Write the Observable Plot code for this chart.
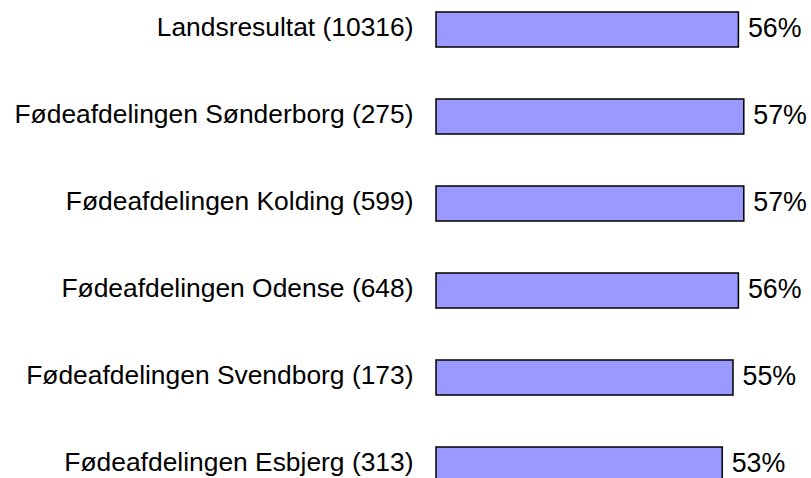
<!DOCTYPE html>
<html>
<head>
<meta charset="utf-8">
<script src="https://cdn.jsdelivr.net/npm/d3@7"></script>
<script src="https://cdn.jsdelivr.net/npm/@observablehq/plot@0.6"></script>
<style>
  html, body { margin: 0; padding: 0; background: #ffffff; }
  #chart svg { display: block; }
</style>
</head>
<body>
<div id="chart"></div>
<script>
const categories = [
  "Landsresultat",
  "Fødeafdelingen Sønderborg",
  "Fødeafdelingen Kolding",
  "Fødeafdelingen Odense",
  "Fødeafdelingen Svendborg",
  "Fødeafdelingen Esbjerg"
];
const counts = [10316, 275, 599, 648, 173, 313];
const values = [56, 57, 57, 56, 55, 53];

const data = categories.map((c, i) => ({
  label: `${c} (${counts[i]})`,
  value: values[i]
}));

const font = "'Liberation Sans', Arial, sans-serif";

const chart = Plot.plot({
  width: 811,
  height: 478,
  margin: 0,
  style: { fontFamily: font, background: "#ffffff", color: "#000000" },
  x: { domain: [0, 100], range: [436, 976], axis: null },
  y: {
    type: "band",
    domain: data.map(d => d.label),
    range: [10, 483],
    paddingInner: 0.6,
    paddingOuter: 0,
    axis: null
  },
  marks: [
    Plot.barX(data, {
      x1: 0,
      x2: "value",
      y: "label",
      fill: "#9999ff",
      stroke: "#000000",
      strokeWidth: 1.5
    }),
    Plot.text(data, {
      x: 0,
      y: "label",
      text: "label",
      textAnchor: "end",
      dx: -23,
      dy: -2,
      fontSize: 26.4,
      fill: "#000000"
    }),
    Plot.text(data, {
      x: "value",
      y: "label",
      text: d => `${d.value}%`,
      textAnchor: "start",
      dx: 9,
      dy: -2,
      fontSize: 26.8,
      fill: "#000000"
    })
  ]
});

document.getElementById("chart").appendChild(chart);
</script>
</body>
</html>
